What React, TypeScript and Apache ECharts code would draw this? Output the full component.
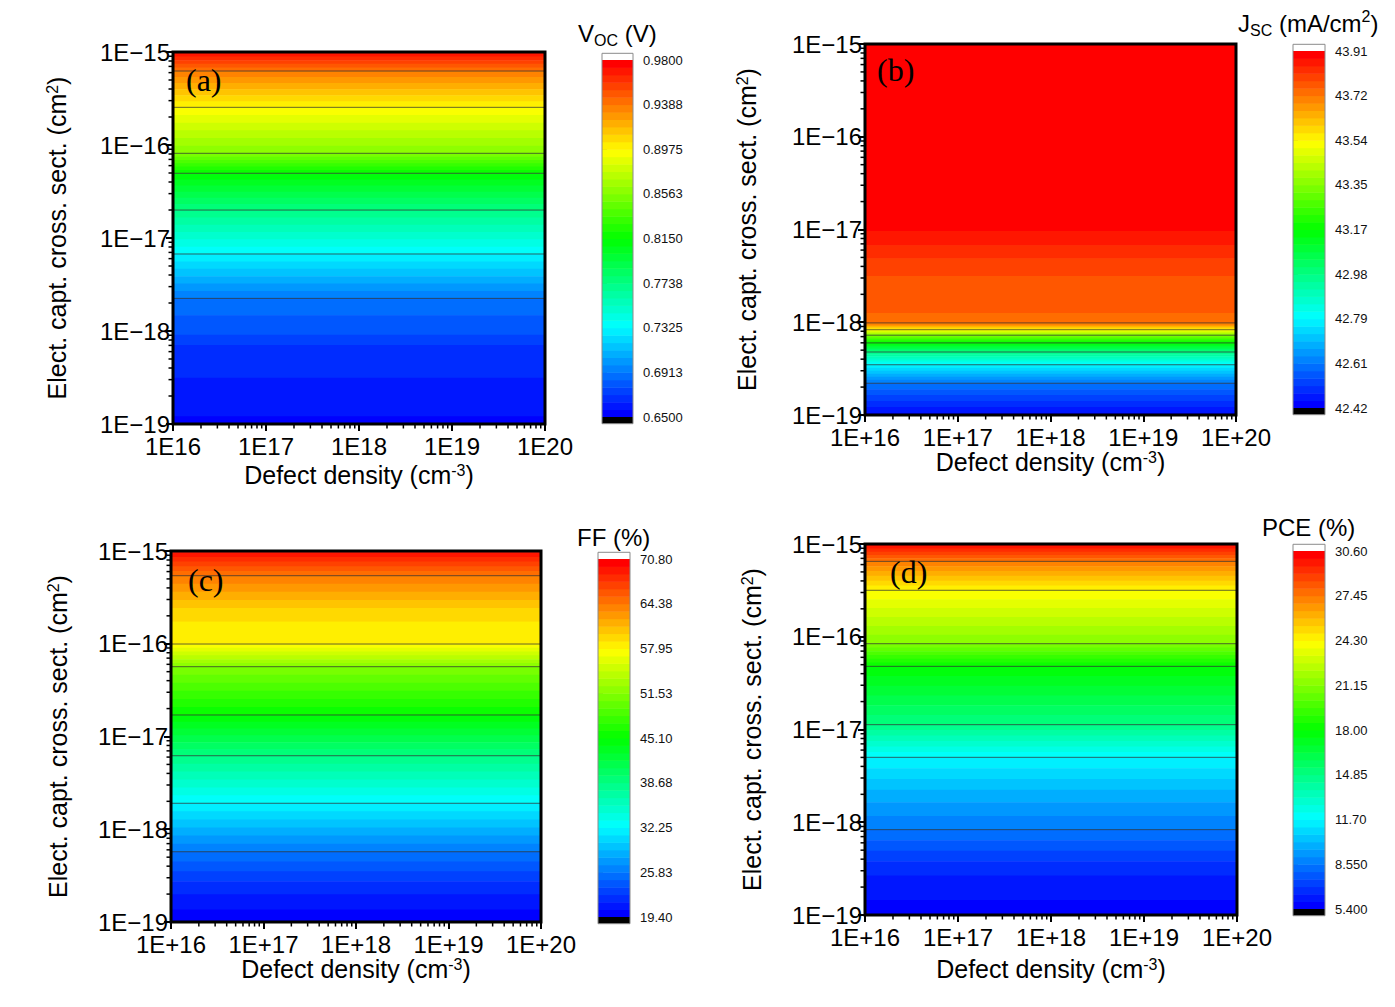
import React, { useEffect, useRef } from 'react';
import * as echarts from 'echarts';

const SANS = "'Liberation Sans', Arial, sans-serif";
const SERIF = "'Liberation Serif', 'Times New Roman', serif";

// Axes of every contour panel
const defectDensityRange = [1e16, 1e20];
const crossSectionRange = [1e-19, 1e-15];
const xTickLabelsPlain = ['1E16', '1E17', '1E18', '1E19', '1E20'];
const xTickLabelsSigned = ['1E+16', '1E+17', '1E+18', '1E+19', '1E+20'];
const yTickLabels = ['1E\u221219', '1E\u221218', '1E\u221217', '1E\u221216', '1E\u221215'];

// Readings: log10 of the electron capture cross-section (cm²) and the value there
const vocLogSigma = [-15.0, -15.204, -15.595, -16.089, -16.304, -16.699, -17.172, -17.648, -17.83, -18.04, -18.15, -18.5, -19.0];
const vocValues = [0.975, 0.9388, 0.8975, 0.8563, 0.815, 0.7738, 0.7325, 0.6913, 0.6844, 0.6775, 0.6706, 0.6638, 0.6555];

const jscLogSigma = [-15.0, -17.0, -17.17, -17.31, -17.5, -17.9, -18.02, -18.08, -18.14, -18.22, -18.32, -18.46, -18.65, -19.0];
const jscValues = [43.9, 43.882, 43.848, 43.817, 43.786, 43.755, 43.72, 43.54, 43.35, 43.17, 42.98, 42.79, 42.61, 42.44];

const ffLogSigma = [-15.0, -15.266, -15.615, -15.762, -16.003, -16.247, -16.768, -17.207, -17.72, -18.242, -18.6, -19.0];
const ffValues = [70.0, 64.38, 60.09, 59.02, 57.95, 51.53, 45.1, 38.68, 32.25, 25.83, 22.2, 19.6];

const pceLogSigma = [-15.0, -15.187, -15.499, -16.075, -16.319, -16.948, -17.3, -17.7, -18.08, -18.5, -19.0];
const pceValues = [30.3, 27.45, 24.3, 21.15, 18.0, 14.85, 11.7, 9.9, 8.55, 6.6, 5.6];

// Colour-scale tick labels (bottom to top)
const vocScale = ['0.6500', '0.6913', '0.7325', '0.7738', '0.8150', '0.8563', '0.8975', '0.9388', '0.9800'];
const jscScale = ['42.42', '42.61', '42.79', '42.98', '43.17', '43.35', '43.54', '43.72', '43.91'];
const ffScale = ['19.40', '25.83', '32.25', '38.68', '45.10', '51.53', '57.95', '64.38', '70.80'];
const pceScale = ['5.400', '8.550', '11.70', '14.85', '18.00', '21.15', '24.30', '27.45', '30.60'];

const LEVELS = 48;
const TICK_EVERY = 6;

const RAINBOW = [
  [0, 0, 255], [0, 128, 255], [0, 255, 255], [0, 255, 128], [0, 255, 0],
  [128, 255, 0], [255, 255, 0], [255, 128, 0], [255, 0, 0],
];

function rainbow(t: number) {
  const p = Math.max(0, Math.min(1, t)) * (RAINBOW.length - 1);
  const i = Math.min(RAINBOW.length - 2, Math.floor(p));
  const f = p - i;
  const a = RAINBOW[i];
  const b = RAINBOW[i + 1];
  const c = a.map((v, k) => Math.round(v + (b[k] - v) * f));
  return `rgb(${c[0]},${c[1]},${c[2]})`;
}

function levelColor(k: number) {
  if (k < 0) return '#000';
  if (k >= LEVELS) return '#fff';
  return rainbow(k / (LEVELS - 1));
}

// Split one reading-to-reading span into constant-level pieces
function splitSegment(e0: number, v0: number, e1: number, v1: number, vmin: number, step: number) {
  const pts = [e0];
  if (v0 !== v1) {
    const lo = Math.min(v0, v1);
    const hi = Math.max(v0, v1);
    const cross: number[] = [];
    for (let m = 1; m < LEVELS; m++) {
      const b = vmin + m * step;
      if (b > lo && b < hi) cross.push(e0 + ((b - v0) / (v1 - v0)) * (e1 - e0));
    }
    cross.sort((a, b) => Math.abs(a - e0) - Math.abs(b - e0));
    pts.push(...cross);
  }
  pts.push(e1);
  const pieces: [number, number, number][] = [];
  for (let i = 0; i < pts.length - 1; i++) {
    const em = (pts[i] + pts[i + 1]) / 2;
    const vm = v0 + ((em - e0) / (e1 - e0)) * (v1 - v0);
    pieces.push([pts[i], pts[i + 1], Math.floor((vm - vmin) / step)]);
  }
  return pieces;
}

let measureCtx: CanvasRenderingContext2D | null = null;
function textWidth(text: string, size: number) {
  if (!measureCtx) measureCtx = document.createElement('canvas').getContext('2d');
  if (!measureCtx) return text.length * size * 0.55;
  measureCtx.font = `${size}px ${SANS}`;
  return measureCtx.measureText(text).width;
}

type TitlePart = { t: string; s: number; dy: number };

const panels = [
  {
    letter: '(a)', logSigma: vocLogSigma, values: vocValues, scale: vocScale, xLabels: xTickLabelsPlain,
    title: [{ t: 'V', s: 24, dy: 0 }, { t: 'OC', s: 16, dy: 7.8 }, { t: ' (V)', s: 24, dy: 0 }] as TitlePart[],
    titleAt: [578, 33],
    plot: { left: 173, top: 52, width: 372, height: 372 },
    bar: { left: 602, top: 60, width: 31, height: 357 },
    xNameGap: 38, yNameGap: 104, letterAt: [186, 80],
  },
  {
    letter: '(b)', logSigma: jscLogSigma, values: jscValues, scale: jscScale, xLabels: xTickLabelsSigned,
    title: [
      { t: 'J', s: 24, dy: 0 }, { t: 'SC', s: 16, dy: 7.8 }, { t: ' (mA/cm', s: 24, dy: 0 },
      { t: '2', s: 16, dy: -6.2 }, { t: ')', s: 24, dy: 0 },
    ] as TitlePart[],
    titleAt: [1238, 23],
    plot: { left: 865, top: 44, width: 371, height: 371 },
    bar: { left: 1293, top: 51, width: 32, height: 357 },
    xNameGap: 32, yNameGap: 106, letterAt: [877, 70],
  },
  {
    letter: '(c)', logSigma: ffLogSigma, values: ffValues, scale: ffScale, xLabels: xTickLabelsSigned,
    title: [{ t: 'FF (%)', s: 24, dy: 0 }] as TitlePart[],
    titleAt: [577, 537],
    plot: { left: 171, top: 551, width: 370, height: 371 },
    bar: { left: 598, top: 559, width: 32, height: 358 },
    xNameGap: 34, yNameGap: 101, letterAt: [188, 580],
  },
  {
    letter: '(d)', logSigma: pceLogSigma, values: pceValues, scale: pceScale, xLabels: xTickLabelsSigned,
    title: [{ t: 'PCE (%)', s: 24, dy: 0 }] as TitlePart[],
    titleAt: [1262, 527],
    plot: { left: 865, top: 544, width: 372, height: 371 },
    bar: { left: 1293, top: 551, width: 32, height: 358 },
    xNameGap: 41, yNameGap: 101, letterAt: [890, 572],
  },
];

function buildOption() {
  const grid: any[] = [];
  const xAxis: any[] = [];
  const yAxis: any[] = [];
  const series: any[] = [];
  const graphics: any[] = [];

  const xDecadeLo = Math.round(Math.log10(defectDensityRange[0]));
  const xDecadeHi = Math.round(Math.log10(defectDensityRange[1]));
  const yDecadeLo = Math.round(Math.log10(crossSectionRange[0]));
  const yDecadeHi = Math.round(Math.log10(crossSectionRange[1]));

  panels.forEach((p, i) => {
    const gPlot = 2 * i;
    const gBar = 2 * i + 1;
    const vmin = parseFloat(p.scale[0]);
    const vmax = parseFloat(p.scale[p.scale.length - 1]);
    const step = (vmax - vmin) / LEVELS;

    grid.push({ ...p.plot, outerBoundsMode: 'none', containLabel: false });
    grid.push({ ...p.bar, outerBoundsMode: 'none', containLabel: false });

    xAxis.push({
      type: 'log', logBase: 10, gridIndex: gPlot,
      min: defectDensityRange[0], max: defectDensityRange[1],
      axisLine: { show: false },
      axisTick: { show: true, inside: false, length: 7, lineStyle: { color: '#000', width: 2 } },
      minorTick: { show: false },
      splitLine: { show: false },
      axisLabel: {
        show: true, showMinLabel: true, showMaxLabel: true,
        fontSize: 24, fontFamily: SANS, color: '#000', margin: 10,
        formatter: (v: number) => p.xLabels[Math.round(Math.log10(v)) - xDecadeLo] ?? '',
      },
      name: 'Defect density (cm{sup|-3})',
      nameLocation: 'middle', nameGap: p.xNameGap,
      nameTextStyle: {
        fontSize: 25, fontFamily: SANS, color: '#000',
        rich: { sup: { fontSize: 16, fontFamily: SANS, color: '#000', verticalAlign: 'top' } },
      },
      z: 5,
    });
    xAxis.push({ type: 'value', gridIndex: gBar, min: 0, max: 1, show: false });

    yAxis.push({
      type: 'log', logBase: 10, gridIndex: gPlot,
      min: crossSectionRange[0], max: crossSectionRange[1],
      axisLine: { show: false },
      axisTick: { show: true, inside: false, length: 7, lineStyle: { color: '#000', width: 2 } },
      minorTick: { show: false },
      splitLine: { show: false },
      axisLabel: {
        show: true, showMinLabel: true, showMaxLabel: true,
        fontSize: 24, fontFamily: SANS, color: '#000', margin: 3,
        padding: [0, 0, 6, 0],
        formatter: (v: number) => yTickLabels[Math.round(Math.log10(v)) - yDecadeLo] ?? '',
      },
      name: 'Elect. capt. cross. sect. (cm{sup|2})',
      nameLocation: 'middle', nameRotate: 90, nameGap: p.yNameGap,
      nameTextStyle: {
        fontSize: 25, fontFamily: SANS, color: '#000',
        rich: { sup: { fontSize: 16, fontFamily: SANS, color: '#000', verticalAlign: 'top' } },
      },
      z: 5,
    });
    yAxis.push({
      type: 'value', gridIndex: gBar, min: 0, max: LEVELS, interval: TICK_EVERY, position: 'right',
      axisLine: { show: false },
      axisTick: { show: true, inside: false, length: 5, lineStyle: { color: '#666', width: 1 } },
      splitLine: { show: false },
      axisLabel: {
        show: true, showMinLabel: true, showMaxLabel: true,
        fontSize: 13, fontFamily: SANS, color: '#111', margin: 10,
        formatter: (v: number) => p.scale[Math.round(v / TICK_EVERY)] ?? '',
      },
    });

    const readings = p.logSigma.map((e, j) => [defectDensityRange[0], Math.pow(10, e), p.values[j]]);

    // Filled contour bands
    series.push({
      type: 'custom', xAxisIndex: gPlot, yAxisIndex: gPlot, silent: true, clip: false, z: 2,
      encode: { x: 0, y: 1 },
      data: readings,
      renderItem: (params: any, api: any) => {
        const j = params.dataIndex;
        if (j >= p.logSigma.length - 1) return null;
        const e0 = p.logSigma[j];
        const e1 = p.logSigma[j + 1];
        const xL = api.coord([defectDensityRange[0], Math.pow(10, e0)])[0];
        const xR = api.coord([defectDensityRange[1], Math.pow(10, e0)])[0];
        const pieces = splitSegment(e0, p.values[j], e1, p.values[j + 1], vmin, step);
        const children = pieces.map(([ea, eb, k]) => {
          const ya = api.coord([defectDensityRange[0], Math.pow(10, ea)])[1];
          const yb = api.coord([defectDensityRange[0], Math.pow(10, eb)])[1];
          return {
            type: 'rect',
            shape: { x: xL, y: Math.min(ya, yb), width: xR - xL, height: Math.abs(yb - ya) + 0.6 },
            style: { fill: levelColor(k) },
          };
        });
        return { type: 'group', children };
      },
    });

    // Contour lines at the labelled levels
    series.push({
      type: 'custom', xAxisIndex: gPlot, yAxisIndex: gPlot, silent: true, clip: false, z: 3,
      encode: { x: 0, y: 1 },
      data: readings,
      renderItem: (params: any, api: any) => {
        const j = params.dataIndex;
        if (j >= p.logSigma.length - 1) return null;
        const e0 = p.logSigma[j];
        const e1 = p.logSigma[j + 1];
        const v0 = p.values[j];
        const v1 = p.values[j + 1];
        const lo = Math.min(v0, v1);
        const hi = Math.max(v0, v1);
        const xL = api.coord([defectDensityRange[0], Math.pow(10, e0)])[0];
        const xR = api.coord([defectDensityRange[1], Math.pow(10, e0)])[0];
        const children: any[] = [];
        if (v0 !== v1) {
          for (let m = TICK_EVERY; m < LEVELS; m += TICK_EVERY) {
            const b = vmin + m * step;
            if (b >= lo && b < hi) {
              const e = e0 + ((b - v0) / (v1 - v0)) * (e1 - e0);
              const y = api.coord([defectDensityRange[0], Math.pow(10, e)])[1];
              children.push({
                type: 'line',
                shape: { x1: xL, y1: y, x2: xR, y2: y },
                style: { stroke: '#333', lineWidth: 1, opacity: 0.75 },
              });
            }
          }
        }
        return { type: 'group', children };
      },
    });

    // Frame and logarithmic minor ticks
    series.push({
      type: 'custom', xAxisIndex: gPlot, yAxisIndex: gPlot, silent: true, clip: false, z: 4,
      encode: { x: 0, y: 1 },
      data: [[defectDensityRange[0], crossSectionRange[0]]],
      renderItem: (params: any, api: any) => {
        const cs = params.coordSys;
        const bottom = cs.y + cs.height;
        const left = cs.x;
        const children: any[] = [];
        for (let d = xDecadeLo; d < xDecadeHi; d++) {
          for (let k = 2; k <= 9; k++) {
            const px = api.coord([k * Math.pow(10, d), crossSectionRange[0]])[0];
            children.push({
              type: 'line', shape: { x1: px, y1: bottom + 1, x2: px, y2: bottom + 4.5 },
              style: { stroke: '#000', lineWidth: 1.5 },
            });
          }
        }
        for (let d = yDecadeLo; d < yDecadeHi; d++) {
          for (let k = 2; k <= 9; k++) {
            const py = api.coord([defectDensityRange[0], k * Math.pow(10, d)])[1];
            children.push({
              type: 'line', shape: { x1: left - 1, y1: py, x2: left - 4.5, y2: py },
              style: { stroke: '#000', lineWidth: 1.5 },
            });
          }
        }
        children.push({
          type: 'rect', shape: { x: cs.x, y: cs.y, width: cs.width, height: cs.height },
          style: { fill: 'none', stroke: '#000', lineWidth: 3 },
        });
        return { type: 'group', children };
      },
    });

    // Colour scale: one stripe per level
    series.push({
      type: 'custom', xAxisIndex: gBar, yAxisIndex: gBar, silent: true, clip: false, z: 2,
      encode: { x: 0, y: 1 },
      data: Array.from({ length: LEVELS }, (_, k) => [0, k]),
      renderItem: (params: any, api: any) => {
        const k = params.dataIndex;
        const a = api.coord([0, k + 1]);
        const b = api.coord([1, k]);
        return {
          type: 'rect',
          shape: { x: a[0], y: a[1], width: b[0] - a[0], height: b[1] - a[1] + 0.5 },
          style: { fill: levelColor(k) },
        };
      },
    });

    // Colour scale: under/over caps and outline
    series.push({
      type: 'custom', xAxisIndex: gBar, yAxisIndex: gBar, silent: true, clip: false, z: 3,
      encode: { x: 0, y: 1 },
      data: [[0, 0]],
      renderItem: (params: any, api: any) => {
        const topOut = api.coord([0, LEVELS + 0.9]);
        const top = api.coord([1, LEVELS]);
        const bot = api.coord([0, 0]);
        const botOut = api.coord([1, -0.9]);
        return {
          type: 'group',
          children: [
            { type: 'rect', shape: { x: topOut[0], y: topOut[1], width: top[0] - topOut[0], height: top[1] - topOut[1] }, style: { fill: levelColor(LEVELS) } },
            { type: 'rect', shape: { x: bot[0], y: bot[1], width: botOut[0] - bot[0], height: botOut[1] - bot[1] }, style: { fill: levelColor(-1) } },
            {
              type: 'rect',
              shape: { x: topOut[0], y: topOut[1], width: botOut[0] - topOut[0], height: botOut[1] - topOut[1] },
              style: { fill: 'none', stroke: '#8a8a8a', lineWidth: 1 },
            },
          ],
        };
      },
    });

    // Colour-scale title
    let tx = p.titleAt[0];
    p.title.forEach((part) => {
      graphics.push({
        type: 'text', z: 100, x: tx, y: p.titleAt[1] + part.dy,
        style: {
          text: part.t, font: `${part.s}px ${SANS}`, fill: '#000',
          align: 'left', verticalAlign: 'middle', textAlign: 'left', textVerticalAlign: 'middle',
        },
      });
      tx += textWidth(part.t, part.s);
    });

    // Panel letter
    graphics.push({
      type: 'text', z: 100, x: p.letterAt[0], y: p.letterAt[1],
      style: {
        text: p.letter, font: `32px ${SERIF}`, fill: '#000',
        align: 'left', verticalAlign: 'middle', textAlign: 'left', textVerticalAlign: 'middle',
      },
    });
  });

  return {
    animation: false,
    backgroundColor: '#fff',
    grid, xAxis, yAxis, series,
    graphic: { elements: graphics },
  };
}

export default function App() {
  const ref = useRef<HTMLDivElement>(null);
  useEffect(() => {
    if (!ref.current) return;
    const chart = echarts.init(ref.current, null, { renderer: 'svg' });
    chart.setOption(buildOption() as any);
    return () => chart.dispose();
  }, []);
  return (
    <div
      ref={ref}
      style={{ position: 'fixed', left: 0, top: 0, width: 1395, height: 1007, background: '#fff' }}
    />
  );
}
